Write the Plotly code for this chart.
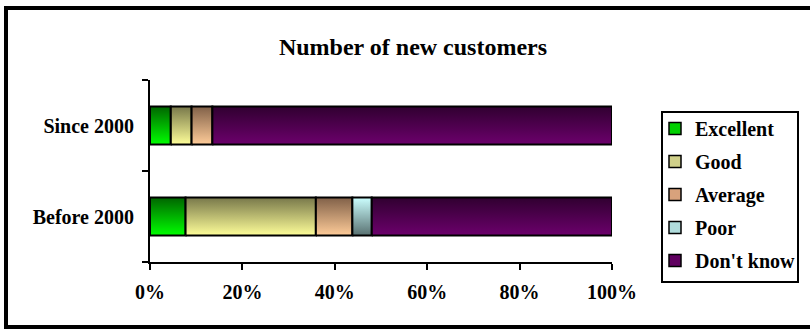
import plotly.graph_objects as go

# Survey data: share of answers (%) per period
periods = ["Before 2000", "Since 2000"]
ratings = ["Excellent", "Good", "Average", "Poor", "Don't know"]
excellent = [7.7, 4.5]
good = [28.2, 4.5]
average = [7.9, 4.5]
poor = [4.2, 0.0]
dont_know = [52.0, 86.5]
x_ticks = [0, 20, 40, 60, 80, 100]

series = [excellent, good, average, poor, dont_know]

# swatch colour, gradient bottom colour, gradient top colour
palette = {
    "Excellent": ("#00d000", "#00ff00", "#006400"),
    "Good": ("#d0d08a", "#ffff99", "#77774a"),
    "Average": ("#d8a27c", "#ffcc99", "#806048"),
    "Poor": ("#b0dcdc", "#587070", "#ccffff"),
    "Don't know": ("#600060", "#6c006c", "#300030"),
}

FONT = "Times New Roman, Liberation Serif, serif"
BAR_W = 0.42

fig = go.Figure()

# stacked bars (carry the data and the legend swatches)
for name, vals in zip(ratings, series):
    fig.add_trace(go.Bar(
        y=periods, x=vals, name=name, orientation="h", width=BAR_W,
        marker=dict(color=palette[name][0], line=dict(color="black", width=1.5)),
        legendgroup=name,
    ))

# gradient-filled overlay for each stacked segment, on a numeric twin y axis
for pi, period in enumerate(periods):
    left = 0.0
    for name, vals in zip(ratings, series):
        v = vals[pi]
        if v <= 0:
            continue
        right = left + v
        y0, y1 = pi - BAR_W / 2, pi + BAR_W / 2
        fig.add_trace(go.Scatter(
            x=[left, right, right, left, left],
            y=[y0, y0, y1, y1, y0],
            yaxis="y2",
            mode="lines", fill="toself",
            line=dict(color="black", width=2),
            fillgradient=dict(
                type="vertical",
                colorscale=[[0, palette[name][1]], [1, palette[name][2]]],
            ),
            showlegend=False, legendgroup=name, hoverinfo="skip",
        ))
        left = right

W, H = 810, 329
ML, MR, MT, MB = 150, 198, 80, 67
PW, PH = W - ML - MR, H - MT - MB


def px(x):
    return (x - ML) / PW


def py(y):
    return (H - MB - y) / PH


shapes = [
    # outer chart frame
    dict(type="rect", xref="paper", yref="paper",
         x0=px(6), x1=px(830), y0=py(327), y1=py(8),
         line=dict(color="black", width=4), fillcolor="rgba(0,0,0,0)"),
    # legend frame
    dict(type="rect", xref="paper", yref="paper",
         x0=px(662), x1=px(798), y0=py(282), y1=py(112),
         line=dict(color="black", width=2), fillcolor="rgba(0,0,0,0)"),
]

fig.update_layout(
    width=W, height=H,
    margin=dict(l=ML, r=MR, t=MT, b=MB, pad=0, autoexpand=False),
    paper_bgcolor="white", plot_bgcolor="white",
    barmode="stack",
    font=dict(family=FONT, size=20, color="black"),
    title=dict(text="<b>Number of new customers</b>", x=413 / W, xanchor="center",
               y=1 - 47 / H, yanchor="middle",
               font=dict(family=FONT, size=24, color="black")),
    showlegend=True,
    legend=dict(
        x=px(655), y=py(109), xanchor="left", yanchor="top",
        traceorder="grouped", tracegroupgap=4,
        bgcolor="rgba(0,0,0,0)", borderwidth=0,
        font=dict(family=FONT, size=20, color="black", weight="bold"),
    ),
    shapes=shapes,
    xaxis=dict(
        range=[0, 100], tickvals=x_ticks, ticktext=[f"<b>{t}%</b>" for t in x_ticks],
        showgrid=False, zeroline=False, showline=True, linecolor="black", linewidth=2,
        ticks="outside", ticklen=6, tickwidth=2, tickcolor="black",
        tickfont=dict(family=FONT, size=20, color="black"),
        ticklabelstandoff=5,
        fixedrange=True,
    ),
    yaxis=dict(
        type="category", categoryorder="array", categoryarray=periods,
        range=[-0.5, 1.5], tickson="boundaries",
        tickvals=periods, ticktext=[f"<b>{p}</b>" for p in periods],
        showgrid=False, zeroline=False, showline=True, linecolor="black", linewidth=2,
        ticks="outside", ticklen=6, tickwidth=2, tickcolor="black",
        tickfont=dict(family=FONT, size=20, color="black"),
        ticklabelstandoff=10,
        fixedrange=True,
    ),
    yaxis2=dict(
        overlaying="y", range=[-0.5, 1.5], visible=False, fixedrange=True,
    ),
)

fig.write_html("out.html")
